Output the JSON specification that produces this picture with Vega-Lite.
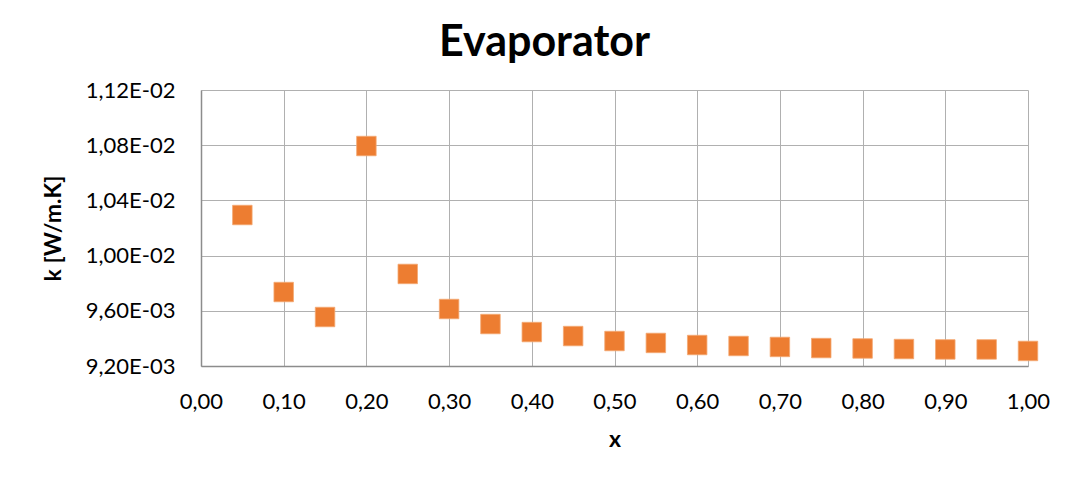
{
  "$schema": "https://vega.github.io/schema/vega-lite/v6.json",
  "width": 827,
  "height": 276,
  "autosize": "none",
  "padding": {"left": 201, "top": 90, "right": 45, "bottom": 118},
  "background": "white",
  "title": {
    "text": "Evaporator",
    "font": "Lato",
    "fontSize": 43,
    "fontWeight": "bold",
    "color": "#000000",
    "anchor": "middle",
    "dx": -70,
    "offset": 14
  },
  "config": {
    "view": {"stroke": null},
    "axis": {
      "labelFont": "Lato",
      "labelFontSize": 22,
      "labelColor": "#000000",
      "titleFont": "Lato",
      "titleFontSize": 23,
      "titleFontWeight": "bold",
      "titleColor": "#000000",
      "gridColor": "#b0b0b0",
      "gridWidth": 1,
      "domainColor": "#8c8c8c",
      "domainWidth": 1.5,
      "ticks": false,
      "labelFlush": false,
      "labelOverlap": false
    }
  },
  "data": {
    "values": [
      {"x": 0.05, "k": 0.010294},
      {"x": 0.10, "k": 0.009736},
      {"x": 0.15, "k": 0.009555},
      {"x": 0.20, "k": 0.010794},
      {"x": 0.25, "k": 0.009867},
      {"x": 0.30, "k": 0.009613},
      {"x": 0.35, "k": 0.009504},
      {"x": 0.40, "k": 0.009446},
      {"x": 0.45, "k": 0.009417},
      {"x": 0.50, "k": 0.009381},
      {"x": 0.55, "k": 0.009367},
      {"x": 0.60, "k": 0.009352},
      {"x": 0.65, "k": 0.009345},
      {"x": 0.70, "k": 0.009338},
      {"x": 0.75, "k": 0.00933},
      {"x": 0.80, "k": 0.009327},
      {"x": 0.85, "k": 0.009323},
      {"x": 0.90, "k": 0.00932},
      {"x": 0.95, "k": 0.00932},
      {"x": 1.00, "k": 0.009309}
    ]
  },
  "mark": {"type": "square", "size": 380, "color": "#ED7D31", "opacity": 1, "stroke": "#F4A872", "strokeWidth": 0.8},
  "encoding": {
    "x": {
      "field": "x",
      "type": "quantitative",
      "scale": {"domain": [0, 1], "nice": false},
      "axis": {
        "values": [0, 0.1, 0.2, 0.3, 0.4, 0.5, 0.6, 0.7, 0.8, 0.9, 1.0],
        "labelExpr": "replace(format(datum.value, '.2f'), '.', ',')",
        "labelPadding": 25,
        "title": "x",
        "titlePadding": 16
      }
    },
    "y": {
      "field": "k",
      "type": "quantitative",
      "scale": {"domain": [0.0092, 0.0112], "nice": false, "zero": false},
      "axis": {
        "values": [0.0092, 0.0096, 0.01, 0.0104, 0.0108, 0.0112],
        "labelExpr": "replace(replace(format(datum.value, '.2e'), '.', ','), 'e-', 'E-0')",
        "labelPadding": 26,
        "title": "k [W/m.K]",
        "titlePadding": 20
      }
    }
  }
}
